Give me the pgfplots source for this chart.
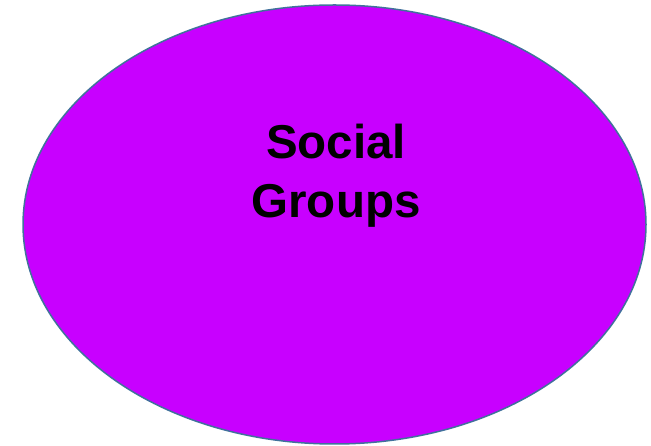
\documentclass[border=0pt]{standalone}
\usepackage{pgfplots}
\pgfplotsset{compat=1.18}
\usepackage{fontspec}
\setmainfont{Liberation Sans}
\definecolor{fillc}{HTML}{C800FF}
\definecolor{edgec}{HTML}{41719C}
\begin{document}
\begin{tikzpicture}
\begin{axis}[
  width=651bp, height=446bp, scale only axis,
  xmin=0, xmax=651, ymin=0, ymax=446,
  hide axis, clip=false
]
\path (rel axis cs:0,0) rectangle (rel axis cs:1,1);
\draw[fill=fillc, draw=edgec, line width=1.5bp] (axis cs:334.5,221.5) ellipse [x radius=311.5, y radius=219.5];
\node[align=center, font=\fontsize{47.5bp}{59bp}\selectfont\bfseries] at (axis cs:336,270) {Social\\Groups};
\end{axis}
\end{tikzpicture}
\end{document}
